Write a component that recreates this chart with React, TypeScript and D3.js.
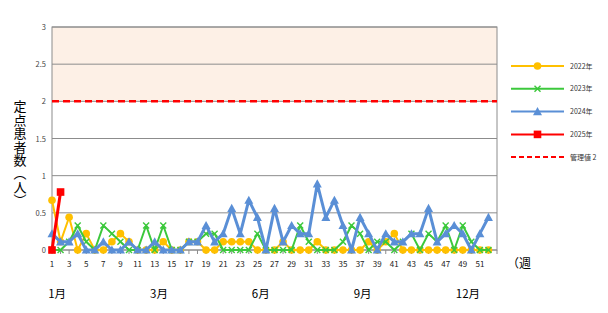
import React from "react";
import * as d3 from "d3";

const weeks = d3.range(1, 53);
const xTickLabels = d3.range(1, 53, 2);
const yTicks = [0, 0.5, 1, 1.5, 2, 2.5, 3];
const y2022 = [0.67,0.11,0.44,0,0.22,0,0,0.11,0.22,0.11, 0,0,0,0.11,0,0,0.11,0.11,0,0, 0.11,0.11,0.11,0.11,0,0,0,0.11,0,0, 0,0.11,0,0,0,0,0,0.11,0,0.11, 0.22,0,0,0,0,0,0,0,0,0,0,0];
const y2023 = [0,0,0.11,0.33,0.11,0,0.33,0.22,0.11,0, 0,0.33,0,0.33,0,0,0.11,0.11,0.22,0.22, 0,0,0,0,0.22,0,0,0,0,0.33, 0.11,0,0,0,0.11,0.33,0.22,0,0.11,0.11, 0,0.11,0.22,0,0.22,0.11,0.33,0,0.33,0.11,0,0];
const y2024 = [0.22,0.11,0.11,0.22,0,0,0.11,0,0,0.11, 0,0,0.11,0,0,0,0.11,0.11,0.33,0.11, 0.22,0.56,0.22,0.67,0.44,0,0.56,0.11,0.33,0.22, 0.22,0.89,0.44,0.67,0.33,0,0.44,0.22,0,0.22, 0.11,0.11,0.22,0.22,0.56,0.11,0.22,0.33,0.22,0,0.22,0.44];
const y2025 = [0, 0.78];
const threshold = 2;
const seriesNames = ["2022年", "2023年", "2024年", "2025年"];
const thresholdName = "管理値 2";
const monthLabels = ["1月", "3月", "6月", "9月", "12月"];
const monthWeeks = [1.6, 13.5, 25.4, 37.3, 49.6];
const yTitle = "定点患者数（人）";

const colors = ["#FFC000", "#3CC83C", "#5A8FD6", "#FF0000"];
const FONT = "'Noto Sans CJK JP', 'DejaVu Sans', sans-serif";

const left = 52, right = 497, top = 27, bottom = 250;
const x = d3.scaleLinear().domain([1, 53]).range([left, right]);
const y = d3.scaleLinear().domain([0, 3]).range([bottom, top]);

function Marker({ kind, cx, cy, color }: { kind: number; cx: number; cy: number; color: string }) {
  if (kind === 0) return <circle cx={cx} cy={cy} r={3.8} fill={color} />;
  if (kind === 1) {
    const s = 3;
    return (
      <g stroke={color} strokeWidth={1.4}>
        <line x1={cx - s} y1={cy - s} x2={cx + s} y2={cy + s} />
        <line x1={cx - s} y1={cy + s} x2={cx + s} y2={cy - s} />
      </g>
    );
  }
  if (kind === 2) {
    const s = 4.5;
    return <path d={`M${cx},${cy - s}L${cx + s},${cy + s * 0.8}L${cx - s},${cy + s * 0.8}Z`} fill={color} />;
  }
  return <rect x={cx - 3.8} y={cy - 3.8} width={7.6} height={7.6} fill={color} />;
}

export default function App() {
  const all = [y2022, y2023, y2024, y2025];
  const widths = [2, 2, 3, 3];
  const line = d3.line<number>().x((_, i) => x(i + 1)).y((d) => y(d));
  return (
    <svg width={608} height={313} style={{ position: "absolute", left: 0, top: 0 }} fontFamily={FONT}>
      <rect x={0} y={0} width={608} height={313} fill="#fff" />
      <rect x={left} y={y(3)} width={right - left} height={y(2) - y(3)} fill="#FDF0E6" />
      {yTicks.map((t) => (
        <line key={t} x1={left} x2={right} y1={y(t)} y2={y(t)} stroke="#8C8C8C" strokeWidth={1} />
      ))}
      <rect x={left} y={top} width={right - left} height={bottom - top} fill="none" stroke="#8C8C8C" strokeWidth={1} />
      {weeks.concat([53]).map((w) => (
        <line key={w} x1={x(w)} x2={x(w)} y1={bottom} y2={bottom + 4} stroke="#8C8C8C" />
      ))}
      {yTicks.map((t) => (
        <text key={t} x={46} y={y(t) + 3} fontSize={7.5} textAnchor="end" fill="#444">{t}</text>
      ))}
      {xTickLabels.map((w) => (
        <text key={w} x={x(w)} y={267} fontSize={8} textAnchor="middle" fill="#222">{w}</text>
      ))}
      <text x={507} y={268} fontSize={12} fill="#000">（週</text>
      {monthLabels.map((m, i) => (
        <text key={m} x={x(monthWeeks[i])} y={298} fontSize={11.5} textAnchor="middle" fill="#000">{m}</text>
      ))}
      <text x={20} y={100} fontSize={13} fill="#000" letterSpacing={0.4} style={{ writingMode: "vertical-rl" }}>{yTitle}</text>
      {all.map((data, si) => (
        <g key={si}>
          <path d={line(data) || ""} fill="none" stroke={colors[si]} strokeWidth={widths[si]} strokeLinejoin="round" />
          {data.map((v, i) => (
            <Marker key={i} kind={si} cx={x(i + 1)} cy={y(v)} color={colors[si]} />
          ))}
        </g>
      ))}
      <line x1={left} x2={right} y1={y(threshold)} y2={y(threshold)} stroke="#FF0000" strokeWidth={2.5} strokeDasharray="7,4" />
      {seriesNames.map((n, i) => {
        const ly = 66 + i * 22.8;
        return (
          <g key={n}>
            <line x1={511} x2={564} y1={ly} y2={ly} stroke={colors[i]} strokeWidth={2} />
            <Marker kind={i} cx={537.5} cy={ly} color={colors[i]} />
            <text x={570} y={ly + 2.5} fontSize={7} fill="#333">{n}</text>
          </g>
        );
      })}
      <line x1={511} x2={564} y1={157} y2={157} stroke="#FF0000" strokeWidth={2} strokeDasharray="5,3" />
      <text x={570} y={159.5} fontSize={7} fill="#333">{thresholdName}</text>
    </svg>
  );
}
